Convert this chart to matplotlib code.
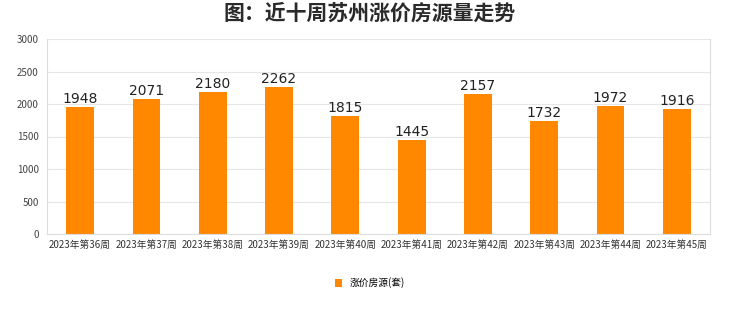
import matplotlib.pyplot as plt
import numpy as np

plt.rcParams['font.family'] = ['Noto Sans CJK SC', 'DejaVu Sans']

weeks = ['2023年第36周', '2023年第37周', '2023年第38周', '2023年第39周', '2023年第40周',
         '2023年第41周', '2023年第42周', '2023年第43周', '2023年第44周', '2023年第45周']
counts = [1948, 2071, 2180, 2262, 1815, 1445, 2157, 1732, 1972, 1916]

fig = plt.figure(figsize=(7.4, 3.12), dpi=100)
ax = fig.add_axes([47/740, 1 - 234/312, 663/740, 195/312])

x = np.arange(len(weeks))
ax.bar(x, counts, width=0.42, color='#FF8800', label='涨价房源(套)')
for xi, v in zip(x, counts):
    ax.text(xi, v + 15, str(v), ha='center', va='bottom', fontsize=10,
            color='#222222', family='DejaVu Sans')

ax.set_xlim(-0.5, len(weeks) - 0.5)
ax.set_ylim(0, 3000)
ax.set_yticks(range(0, 3001, 500))
ax.set_xticks(x)
ax.set_xticklabels(weeks, fontsize=7, color='#333333')
ax.tick_params(axis='y', labelsize=7, colors='#444444', length=0, pad=6)
ax.tick_params(axis='x', length=0, pad=4)
ax.grid(axis='y', color='#e6e6e6', linewidth=0.8)
ax.set_axisbelow(True)
ax.spines['top'].set_visible(False)
for s in ['left', 'right', 'bottom']:
    ax.spines[s].set_color('#dddddd')

fig.suptitle('图：近十周苏州涨价房源量走势', fontsize=15, fontweight='bold', y=0.99, color='#2a2a2a')
fig.legend(loc='center', bbox_to_anchor=(0.5, 1 - 283/312), frameon=False, fontsize=7,
           handlelength=0.8, handleheight=0.8, handletextpad=0.8)

plt.savefig('out.png', dpi=100)
